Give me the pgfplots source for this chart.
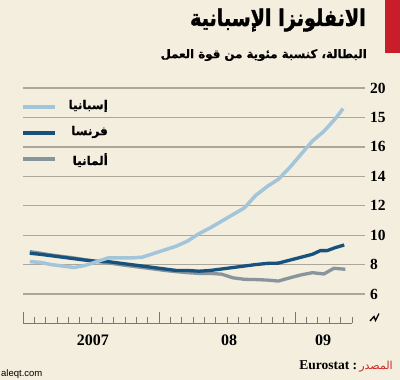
\documentclass[border=0pt]{standalone}
\usepackage{pgfplots}
\pgfplotsset{compat=1.18}
\usepackage{fontspec}
\setmainfont{Liberation Serif}
\newfontfamily\arabicfont[Script=Arabic]{DejaVu Sans}
\newfontfamily\arabicblack[Script=Arabic, FakeBold=1.6]{DejaVu Sans Bold}
\newfontfamily\arabicbold[Script=Arabic, FakeBold=0.8]{DejaVu Sans Bold}
\newfontfamily\wmfont{Liberation Sans}
\TeXXeTstate=1
\definecolor{bg}{RGB}{243,238,222}
\definecolor{redbar}{RGB}{200,30,42}
\definecolor{gridc}{RGB}{172,166,155}
\definecolor{tickc}{RGB}{120,120,120}
\definecolor{spain}{RGB}{162,197,218}
\definecolor{france}{RGB}{22,82,125}
\definecolor{germany}{RGB}{138,148,157}
\definecolor{srcred}{RGB}{205,40,40}
\begin{document}
\begin{tikzpicture}
\fill[bg] (0,0) rectangle (400pt,-380pt);
\useasboundingbox (0,0) rectangle (400pt,-380pt);
\begin{scope}[x=1pt,y=-1pt]
\fill[redbar] (385,0) rectangle (400,53);
\node[anchor=east, inner sep=0pt] at (366,20) {\scalebox{0.96}[1.15]{\arabicblack\fontsize{20}{24}\selectfont\beginR الانفلونزا الإسبانية\endR}};
\node[anchor=east, inner sep=0pt] at (367,55) {\arabicbold\fontsize{11.8}{14}\selectfont\beginR البطالة، كنسبة مئوية من قوة العمل\endR};
% legend
\draw[spain, line width=3.8pt] (23,107) -- (55,107);
\draw[france, line width=3.8pt] (23,133) -- (55,133);
\draw[germany, line width=3.8pt] (23,159) -- (55,159);
\node[anchor=east, inner sep=0pt] at (108,106) {\arabicbold\fontsize{12}{14}\selectfont\beginR إسبانيا\endR};
\node[anchor=east, inner sep=0pt] at (108,132) {\arabicbold\fontsize{12}{14}\selectfont\beginR فرنسا\endR};
\node[anchor=east, inner sep=0pt] at (108,160) {\arabicbold\fontsize{12}{14}\selectfont\beginR ألمانيا\endR};
% year labels
\node[inner sep=0pt] at (93,340) {\bfseries\fontsize{16}{18}\selectfont 2007};
\node[inner sep=0pt] at (229,340) {\bfseries\fontsize{16}{18}\selectfont 08};
\node[inner sep=0pt] at (323,340) {\bfseries\fontsize{16}{18}\selectfont 09};
% axis break
\draw[black, line width=1.3pt] (370,321) -- (374,316.5) -- (375.5,320.5) -- (379,313.5);
% baseline and month ticks
\draw[tickc, line width=1pt] (23,323) -- (352,323);
\foreach \i in {0,...,29} {\draw[tickc, line width=1pt] ({23+11.345*\i},323) -- ++(0,-6);}
\foreach \i in {0,12,24} {\draw[tickc, line width=1pt] ({23+11.345*\i},323) -- ++(0,-11);}
% source
\node[anchor=east, inner sep=0pt] at (393,366) {\bfseries\fontsize{13.5}{15}\selectfont Eurostat :\,{\arabicfont\mdseries\color{srcred}\fontsize{11}{12}\selectfont\beginR المصدر\endR}};
\node[anchor=west, inner sep=0pt] at (1,374) {\wmfont\fontsize{9.5}{10}\selectfont aleqt.com};
\end{scope}
\begin{axis}[
  at={(23pt,-323pt)}, anchor=south west,
  scale only axis, width=342pt, height=235pt,
  xmin=0, xmax=30.13, ymin=4.03, ymax=20,
  axis x line*=bottom, axis y line*=right,
  axis line style={draw=none},
  clip=false,
  ytick={6,8,...,20}, yticklabels={6,8,10,12,14,16,15,20},
  ymajorgrids, grid style={gridc, line width=1.3pt},
  ytick style={draw=none},
  yticklabel style={anchor=west, inner sep=0pt, xshift=5pt, font=\bfseries\fontsize{15.5}{16}\selectfont},
  /pgf/number format/assume math mode=true,
  xtick=\empty,
]
\addplot[germany, line width=3.3pt, line join=round] coordinates {
(0.6,8.88) (1.5,8.78) (2.5,8.65) (3.5,8.55) (4.5,8.45) (5.5,8.33) (6.5,8.22) (7.5,8.12)
(8.5,8.0) (9.5,7.9) (10.5,7.8) (11.5,7.7) (12.5,7.6) (13.5,7.52) (14.5,7.45) (15.5,7.4)
(16.5,7.4) (17.5,7.35) (18.5,7.1) (19.5,7.0) (20.5,6.98) (21.5,6.95) (22.5,6.88) (23.5,7.1)
(24.5,7.3) (25.5,7.45) (26.5,7.36) (27.4,7.75) (28.4,7.68)};
\addplot[france, line width=3.3pt, line join=round] coordinates {
(0.6,8.77) (1.5,8.7) (2.5,8.6) (3.5,8.5) (4.5,8.4) (5.5,8.3) (6.5,8.22) (7.5,8.2)
(8.5,8.1) (9.5,8.0) (10.5,7.9) (11.5,7.8) (12.5,7.7) (13.5,7.6) (14.5,7.6) (15.5,7.55)
(16.5,7.6) (17.5,7.7) (18.5,7.8) (19.5,7.9) (20.5,8.0) (21.5,8.08) (22.5,8.1) (23.5,8.3)
(24.5,8.5) (25.5,8.7) (26.2,8.95) (26.8,8.95) (27.5,9.15) (28.3,9.33)};
\addplot[spain, line width=3.5pt, line join=round] coordinates {
(0.6,8.2) (1.5,8.15) (2.5,8.0) (3.5,7.9) (4.5,7.8) (5.5,7.95) (6.5,8.2) (7.5,8.45)
(8.5,8.45) (9.5,8.45) (10.5,8.5) (11.5,8.75) (12.5,9.0) (13.5,9.25) (14.5,9.6) (15.5,10.1)
(16.5,10.5) (17.5,10.95) (18.5,11.4) (19.5,11.85) (20.5,12.7) (21.5,13.3) (22.5,13.8)
(23.5,14.6) (24.5,15.5) (25.5,16.4) (26.5,17.05) (27.5,17.9) (28.2,18.6)};
\end{axis}
\end{tikzpicture}
\end{document}
